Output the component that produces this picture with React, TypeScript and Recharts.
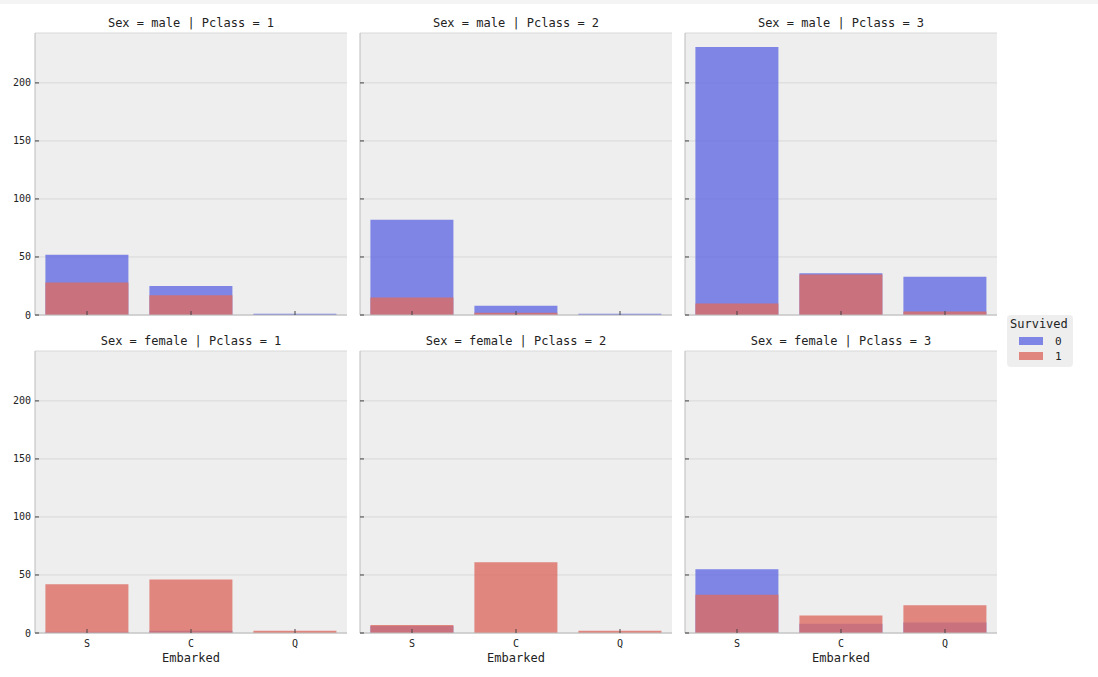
import { BarChart, Bar, XAxis, YAxis, CartesianGrid } from 'recharts'

const CATEGORIES = ['S', 'C', 'Q']
const SERIES_NAMES = ['0', '1']
const SERIES_COLORS = ['rgb(99,106,226)', 'rgb(220,107,99)']
const Y_TICKS = [0, 50, 100, 150, 200]

// counts per Embarked (S, C, Q), Survived = 0 / 1
const male1Died = [52, 25, 1]
const male1Survived = [28, 17, 0]
const male2Died = [82, 8, 1]
const male2Survived = [15, 2, 0]
const male3Died = [231, 36, 33]
const male3Survived = [10, 35, 3]
const female1Died = [1, 2, 0]
const female1Survived = [42, 46, 2]
const female2Died = [6, 0, 0]
const female2Survived = [7, 61, 2]
const female3Died = [55, 8, 9]
const female3Survived = [33, 15, 24]

const SEXES = ['male', 'female']
const PCLASSES = [1, 2, 3]
const DIED = [[male1Died, male2Died, male3Died], [female1Died, female2Died, female3Died]]
const SURVIVED = [[male1Survived, male2Survived, male3Survived], [female1Survived, female2Survived, female3Survived]]

const COL_LEFT = [35, 360, 685]
const ROW_TOP = [33, 351]
const PLOT_W = 312
const PLOT_H = 282
const FONT = '"DejaVu Sans Mono", monospace'

function YTick({ x, y, payload, showLabel }: any) {
  return (
    <g>
      <line x1={x} x2={x + 4} y1={y} y2={y} stroke="#444" strokeWidth={1} />
      {showLabel && (
        <text x={x - 4} y={y} dy={3.5} textAnchor="end" fontSize={10} fill="#222" fontFamily={FONT}>
          {payload.value}
        </text>
      )}
    </g>
  )
}

function XTick({ x, y, payload, showLabel }: any) {
  return (
    <g>
      <line x1={x} x2={x} y1={y} y2={y - 4} stroke="#444" strokeWidth={1} />
      {showLabel && (
        <text x={x} y={y + 14} textAnchor="middle" fontSize={10} fill="#222" fontFamily={FONT}>
          {payload.value}
        </text>
      )}
    </g>
  )
}

function Panel({ row, col }: { row: number; col: number }) {
  const died = DIED[row][col]
  const survived = SURVIVED[row][col]
  const data = CATEGORIES.map((cat, i) => ({ cat, died: died[i], survived: survived[i] }))
  const bottom = row === 1
  const left = col === 0
  return (
    <div style={{ position: 'absolute', left: COL_LEFT[col] - 35, top: ROW_TOP[row] - 25 }}>
      <div
        style={{
          position: 'absolute', left: 35, top: 8, width: PLOT_W, height: 14, lineHeight: '14px',
          textAlign: 'center', fontSize: 12, fontFamily: FONT, color: '#222',
        }}
      >
        {`Sex = ${SEXES[row]} | Pclass = ${PCLASSES[col]}`}
      </div>
      <BarChart width={35 + PLOT_W + 5} height={25 + PLOT_H + 45} data={data} barCategoryGap="10%"
        margin={{ top: 25, right: 5, bottom: 0, left: 0 }}>
        <CartesianGrid vertical={false} fill="#eeeeee" stroke="#d8d8d8" />
        <XAxis dataKey="cat" height={45} tickSize={0} tickMargin={0} tickLine={false}
          axisLine={{ stroke: '#bcbcbc' }} tick={<XTick showLabel={bottom} />}
          label={bottom ? { value: 'Embarked', position: 'insideTop', offset: 20, fontSize: 12, fill: '#222', fontFamily: FONT } : undefined} />
        <XAxis dataKey="cat" xAxisId="b" hide />
        <YAxis width={35} domain={[0, 243]} ticks={Y_TICKS} tickSize={0} tickMargin={0} tickLine={false}
          axisLine={{ stroke: '#bcbcbc' }} tick={<YTick showLabel={left} />} />
        <Bar dataKey="died" fill={SERIES_COLORS[0]} fillOpacity={0.8} isAnimationActive={false} />
        <Bar dataKey="survived" xAxisId="b" fill={SERIES_COLORS[1]} fillOpacity={0.8} isAnimationActive={false} />
      </BarChart>
    </div>
  )
}

export default function App() {
  return (
    <div style={{ position: 'absolute', left: 0, top: 0, width: 1098, height: 677, background: '#fff', overflow: 'hidden' }}>
      <div style={{ position: 'absolute', left: 0, top: 0, width: 1098, height: 4, background: '#f4f4f4' }} />
      {[0, 1].map((row) => [0, 1, 2].map((col) => <Panel key={`${row}-${col}`} row={row} col={col} />))}

      {/* Legend */}
      <div style={{ position: 'absolute', left: 1007, top: 315, width: 66, height: 52, background: '#eeeeee', borderRadius: 4, fontFamily: FONT, color: '#222' }}>
        <div style={{ position: 'absolute', left: 3, top: 2, fontSize: 12, lineHeight: '14px' }}>Survived</div>
        {SERIES_NAMES.map((name, i) => (
          <div key={name} style={{ position: 'absolute', left: 12, top: 19 + i * 15, height: 14, display: 'flex', alignItems: 'center' }}>
            <div style={{ width: 24, height: 8, background: SERIES_COLORS[i], opacity: 0.8 }} />
            <span style={{ marginLeft: 12, fontSize: 11 }}>{name}</span>
          </div>
        ))}
      </div>
    </div>
  )
}
